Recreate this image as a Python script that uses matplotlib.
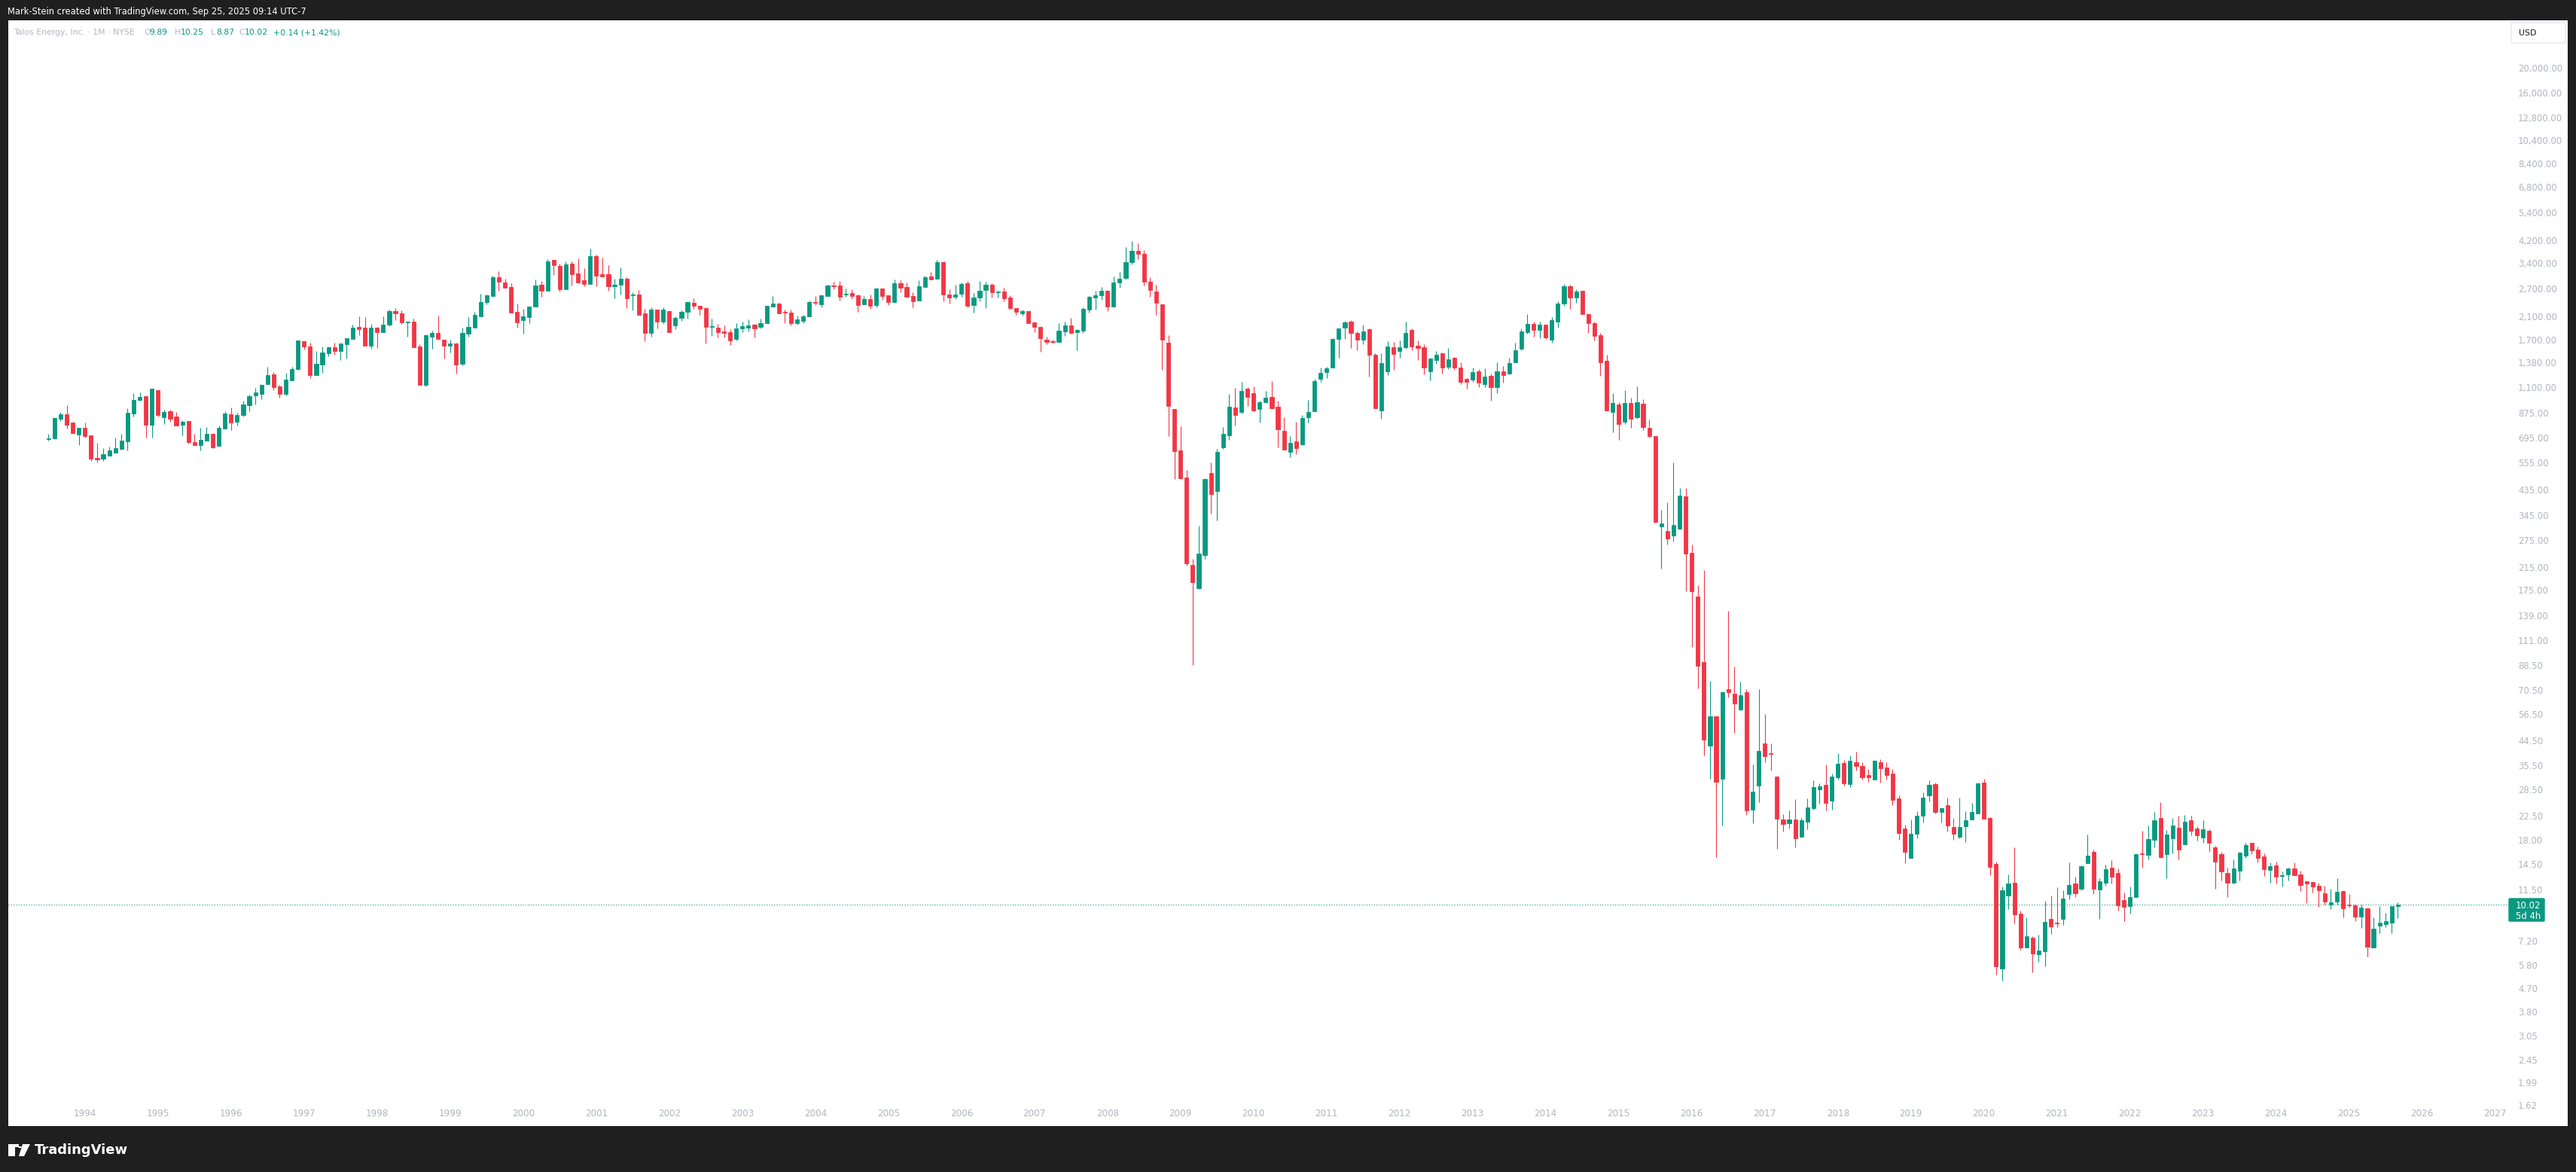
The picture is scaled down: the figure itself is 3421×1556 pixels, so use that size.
import numpy as np
import pandas as pd
import matplotlib
matplotlib.use('Agg')
import matplotlib.pyplot as plt
from matplotlib.patches import Rectangle, FancyBboxPatch, Polygon, Circle

# Talos Energy monthly candles, Jul 1993 - Sep 2025
months = pd.period_range('1993-07', '2025-09', freq='M')

opens = [
    688, 692, 828, 862, 800, 718,  # 1993
    762, 713, 580, 577, 592, 609, 631, 675, 870, 984, 1016, 785,  # 1994
    1074, 841, 887, 845, 785, 811, 670, 653, 680, 722, 648, 759,  # 1995
    862, 807, 857, 938, 1025, 1040, 1136, 1239, 1110, 1040, 1176, 1303,  # 1996
    1675, 1596, 1233, 1350, 1505, 1580, 1536, 1633, 1713, 1906, 1893, 1611,  # 1997
    1893, 1822, 1950, 2201, 2159, 1990, 1999, 1596, 1129, 1739, 1806, 1699,  # 1998
    1611, 1640, 1367, 1798, 1898, 2103, 2395, 2529, 2996, 2859, 2740, 2188,  # 1999
    2033, 2089, 2299, 2796, 2655, 3506, 3319, 2685, 3388, 3100, 2908, 2815,  # 2000
    3628, 3079, 3079, 2759, 2796, 2955, 2541, 2559, 2159, 1806, 2232, 1999,  # 2001
    2201, 1933, 2070, 2188, 2374, 2310, 2262, 1906, 1893, 1830, 1818, 1709,  # 2002
    1881, 1893, 1946, 1906, 1973, 2294, 2357, 2188, 2172, 1973, 2013, 2098,  # 2003
    2391, 2341, 2529, 2778, 2778, 2559, 2593, 2541, 2341, 2459, 2325, 2703,  # 2004
    2541, 2391, 2840, 2740, 2525, 2425, 2740, 3017, 2955, 3433, 2559, 2510,  # 2005
    2576, 2840, 2325, 2492, 2667, 2796, 2610, 2627, 2492, 2262, 2159, 2201,  # 2006
    1986, 1906, 1699, 1675, 1665, 1830, 1933, 1818, 1843, 2232, 2492, 2541,  # 2007
    2649, 2294, 2859, 2976, 3444, 3801, 3701, 2873, 2632, 2341, 1652, 905,  # 2008
    620, 486, 219, 178, 239, 505, 429, 640, 713, 917, 879, 1087,  # 2009
    1045, 907, 962, 1009, 922, 742, 612, 673, 654, 837, 888, 1190,  # 2010
    1265, 1317, 1710, 1892, 2000, 1803, 1702, 1867, 1481, 893, 1276, 1583,  # 2011
    1533, 1583, 1858, 1609, 1583, 1272, 1415, 1501, 1327, 1439, 1317, 1187,  # 2012
    1183, 1272, 1135, 1220, 1100, 1272, 1243, 1382, 1562, 1821, 1958, 1858,  # 2013
    1948, 1694, 2000, 2360, 2762, 2497, 2645, 2143, 1973, 1767, 1403, 877,  # 2014
    943, 805, 957, 836, 950, 763, 706, 310, 299, 286, 304, 410,  # 2015
    244, 165, 90.8, 42.4, 55.5, 31.5, 70.9, 68.2, 59.0, 68.9, 23.7, 29.6,  # 2016
    43.3, 39.7, 32.1, 21.7, 21.0, 21.7, 18.6, 21.3, 24.1, 28.6, 29.8, 25.8,  # 2017
    31.9, 36.3, 30.0, 36.5, 35.3, 32.5, 31.1, 36.5, 34.7, 33.0, 26.3, 20.0,  # 2018
    15.35, 19.0, 22.5, 27.1, 30.0, 23.3, 24.7, 20.3, 18.6, 20.4, 21.7, 23.0,  # 2019
    30.4, 22.0, 14.5, 5.61, 10.9, 12.2, 9.23, 6.79, 7.41, 6.38, 6.57, 8.80,  # 2020
    8.53, 8.77, 11.0, 12.1, 11.6, 14.6, 16.2, 11.45, 12.2, 14.0, 13.4, 10.45,  # 2021
    9.86, 10.7, 16.0, 15.7, 18.0, 22.0, 15.8, 18.3, 20.2, 17.3, 21.6, 20.0,  # 2022
    18.4, 19.6, 16.85, 15.85, 13.4, 12.2, 13.6, 15.6, 17.5, 16.5, 15.5, 13.7,  # 2023
    14.3, 13.0, 13.2, 13.9, 13.2, 12.4, 12.3, 11.9, 11.1, 10.05, 10.3, 11.3,  # 2024
    10.0, 9.95, 9.0, 9.7, 6.79, 8.3, 8.41, 8.52, 9.89,  # 2025
]

highs = [
    722, 836, 881, 936, 806, 762,  # 1993
    800, 713, 665, 634, 643, 697, 722, 910, 1045, 1052, 1016, 1088,  # 1994
    1074, 898, 898, 881, 817, 811, 722, 762, 768, 727, 778, 887,  # 1995
    917, 875, 975, 1030, 1097, 1134, 1327, 1265, 1126, 1256, 1327, 1686,  # 1996
    1675, 1652, 1532, 1596, 1596, 1652, 1640, 1721, 1946, 2098, 2084, 1960,  # 1997
    1906, 2098, 2232, 2262, 2216, 1999, 2056, 1633, 1780, 1843, 2111, 1699,  # 1998
    1699, 1652, 1893, 2084, 2188, 2576, 2559, 3034, 3170, 2955, 2840, 2357,  # 1999
    2247, 2294, 2930, 2894, 3530, 3506, 3388, 3458, 3458, 3553, 3252, 3885,  # 2000
    3678, 3578, 3341, 2955, 3274, 2996, 2610, 2667, 2247, 2278, 2232, 2278,  # 2001
    2201, 2098, 2216, 2391, 2475, 2310, 2278, 2056, 1960, 1933, 1868, 1973,  # 2002
    1999, 2042, 1960, 2056, 2310, 2525, 2374, 2232, 2232, 2111, 2128, 2425,  # 2003
    2525, 2541, 2796, 2872, 2894, 2703, 2685, 2559, 2525, 2559, 2722, 2703,  # 2004
    2541, 2930, 2912, 2859, 2610, 2912, 3034, 3148, 3506, 3458, 2685, 2796,  # 2005
    2859, 2894, 2593, 2894, 2872, 2840, 2649, 2722, 2541, 2262, 2232, 2201,  # 2006
    1986, 1906, 1745, 1699, 1973, 1999, 2070, 1868, 2278, 2525, 2649, 2740,  # 2007
    2649, 3017, 3148, 3940, 4163, 4073, 3832, 2999, 2799, 2341, 1771, 905,  # 2008
    773, 520, 231, 313, 483, 556, 631, 767, 1036, 1096, 1156, 1100,  # 2009
    1111, 975, 1062, 1165, 975, 837, 707, 805, 855, 982, 1190, 1317,  # 2010
    1330, 1718, 1882, 2011, 2022, 1826, 1948, 1882, 1500, 1501, 1674, 1661,  # 2011
    1686, 2000, 1882, 1686, 1625, 1439, 1533, 1513, 1575, 1451, 1382, 1196,  # 2012
    1317, 1300, 1307, 1246, 1382, 1334, 1439, 1652, 1882, 2144, 2000, 2000,  # 2013
    1948, 2077, 2405, 2814, 2792, 2680, 2645, 2160, 1994, 1810, 1478, 1043,  # 2014
    963, 1072, 1004, 1109, 989, 822, 706, 362, 388, 557, 441, 441,  # 2015
    264, 182, 209, 76.4, 55.5, 69.6, 144.6, 87.2, 75.9, 70.9, 35.8, 70.9,  # 2016
    56.6, 43.3, 32.3, 22.8, 23.6, 26.1, 22.0, 26.3, 31.0, 30.1, 35.8, 33.0,  # 2017
    39.65, 37.3, 38.8, 40.2, 36.5, 34.3, 37.3, 37.6, 36.5, 34.4, 27.0, 20.7,  # 2018
    21.7, 23.4, 27.8, 31.0, 30.4, 24.2, 26.5, 22.0, 26.5, 23.4, 25.2, 30.4,  # 2019
    31.5, 22.1, 14.8, 11.8, 13.2, 16.85, 9.48, 8.92, 7.51, 7.62, 10.4, 10.9,  # 2020
    11.7, 11.4, 14.7, 12.9, 14.3, 18.9, 16.5, 12.7, 14.4, 15.0, 13.9, 11.2,  # 2021
    11.8, 15.8, 19.6, 20.6, 23.2, 25.4, 19.7, 22.0, 22.5, 22.6, 22.5, 20.4,  # 2022
    21.6, 19.9, 17.1, 16.2, 14.0, 15.1, 16.2, 17.5, 17.6, 17.0, 15.95, 14.7,  # 2023
    14.8, 13.5, 14.0, 14.7, 13.6, 12.4, 12.3, 12.2, 11.9, 11.6, 12.7, 11.4,  # 2024
    11.0, 10.1, 10.0, 9.75, 8.92, 9.9, 9.3, 9.9, 10.25,  # 2025
]

lows = [
    680, 690, 813, 759, 725, 653,  # 1993
    699, 565, 558, 565, 592, 609, 623, 622, 847, 978, 697, 697,  # 1994
    847, 791, 807, 780, 714, 658, 653, 622, 680, 635, 645, 759,  # 1995
    749, 780, 847, 883, 945, 991, 1136, 1076, 1005, 1025, 1176, 1294,  # 1996
    1557, 1200, 1233, 1260, 1464, 1484, 1413, 1434, 1713, 1768, 1611, 1562,  # 1997
    1574, 1822, 1924, 2033, 1963, 1749, 1588, 1129, 1110, 1562, 1703, 1434,  # 1998
    1515, 1250, 1341, 1749, 1898, 2103, 2347, 2529, 2655, 2728, 2176, 1898,  # 1999
    1798, 1977, 2299, 2510, 2655, 3058, 2637, 2685, 2778, 2840, 2759, 2815,  # 2000
    2759, 2996, 2649, 2475, 2559, 2262, 2216, 2128, 1675, 1739, 1881, 1960,  # 2001
    1818, 1868, 2013, 2056, 2247, 2128, 1640, 1757, 1733, 1733, 1618, 1686,  # 2002
    1818, 1830, 1733, 1881, 1973, 2294, 2154, 1973, 1933, 1946, 1973, 2098,  # 2003
    2329, 2278, 2529, 2685, 2425, 2510, 2459, 2188, 2341, 2247, 2278, 2443,  # 2004
    2325, 2374, 2610, 2492, 2278, 2425, 2740, 2930, 2930, 2408, 2357, 2459,  # 2005
    2510, 2278, 2172, 2408, 2262, 2492, 2492, 2408, 2232, 2128, 2111, 1973,  # 2006
    1818, 1521, 1629, 1640, 1652, 1757, 1794, 1542, 1806, 2172, 2232, 2443,  # 2007
    2201, 2278, 2722, 2930, 3356, 3520, 2769, 2510, 2133, 1290, 708, 480,  # 2008
    478, 218, 88, 176, 231, 350, 329, 628, 681, 777, 870, 929,  # 2009
    888, 797, 953, 905, 638, 625, 582, 601, 649, 801, 888, 1159,  # 2010
    1196, 1317, 1439, 1710, 1575, 1541, 1630, 1213, 913, 827, 1230, 1290,  # 2011
    1439, 1560, 1541, 1415, 1240, 1171, 1366, 1247, 1300, 1290, 1132, 1087,  # 2012
    1159, 1105, 1100, 977, 1045, 1150, 1240, 1382, 1541, 1794, 1743, 1722,  # 2013
    1710, 1647, 1892, 2316, 2250, 2379, 2135, 1810, 1689, 1218, 890, 731,  # 2014
    685, 791, 760, 825, 749, 697, 321, 212, 264, 271, 304, 173,  # 2015
    104, 71.6, 38.8, 31.4, 15.4, 20.5, 65.6, 47.8, 58.6, 22.6, 21.0, 25.4,  # 2016
    36.4, 33.8, 16.6, 19.5, 20.0, 16.8, 18.5, 19.9, 23.7, 25.1, 23.6, 23.7,  # 2017
    31.3, 29.6, 29.2, 33.8, 31.1, 30.6, 31.1, 30.4, 31.1, 24.8, 18.0, 14.6,  # 2018
    15.35, 18.35, 21.1, 25.6, 23.0, 21.1, 19.4, 18.0, 18.35, 17.7, 21.7, 22.9,  # 2019
    21.8, 13.1, 5.30, 5.03, 9.6, 8.47, 6.65, 6.79, 5.42, 5.96, 5.73, 7.69,  # 2020
    8.17, 8.35, 10.5, 10.7, 11.4, 14.6, 11.05, 8.8, 11.9, 12.1, 9.5, 8.6,  # 2021
    9.2, 10.7, 14.0, 15.1, 16.9, 15.35, 12.75, 16.0, 15.1, 17.3, 18.8, 17.9,  # 2022
    17.6, 16.2, 11.6, 12.5, 10.7, 12.1, 12.5, 15.3, 15.85, 14.7, 13.0, 12.2,  # 2023
    12.1, 11.8, 12.5, 13.1, 11.35, 10.15, 11.2, 9.8, 10.0, 9.6, 10.05, 8.9,  # 2024
    9.75, 8.6, 8.1, 6.26, 6.79, 7.7, 8.17, 7.7, 8.87,  # 2025
]

closes = [
    692, 834, 862, 785, 727, 762,  # 1993
    709, 577, 571, 600, 621, 634, 679, 875, 982, 1009, 785, 1088,  # 1994
    857, 881, 828, 780, 806, 667, 653, 684, 722, 640, 762, 869,  # 1995
    797, 855, 942, 1016, 1052, 1126, 1231, 1099, 1040, 1182, 1300, 1686,  # 1996
    1600, 1233, 1363, 1511, 1580, 1536, 1640, 1721, 1893, 1872, 1611, 1893,  # 1997
    1822, 1946, 2201, 2149, 1990, 1999, 1588, 1129, 1768, 1806, 1703, 1611,  # 1998
    1640, 1357, 1806, 1906, 2128, 2391, 2541, 2996, 2866, 2728, 2176, 1990,  # 1999
    2098, 2294, 2778, 2649, 3458, 3349, 2685, 3364, 3079, 2859, 2815, 3628,  # 2000
    3037, 3017, 2759, 2796, 2955, 2475, 2559, 2128, 1806, 2232, 1999, 2232,  # 2001
    1818, 2070, 2188, 2391, 2310, 2247, 1906, 1920, 1818, 1806, 1686, 1881,  # 2002
    1920, 1933, 1881, 1973, 2310, 2357, 2159, 2172, 1973, 2042, 2098, 2391,  # 2003
    2374, 2541, 2778, 2759, 2510, 2576, 2525, 2325, 2459, 2310, 2703, 2525,  # 2004
    2391, 2840, 2722, 2510, 2408, 2759, 2996, 2930, 3433, 2559, 2492, 2559,  # 2005
    2815, 2310, 2492, 2649, 2796, 2610, 2627, 2475, 2262, 2188, 2201, 1973,  # 2006
    1906, 1717, 1665, 1665, 1843, 1933, 1806, 1856, 2247, 2510, 2541, 2649,  # 2007
    2294, 2859, 2955, 3433, 3801, 3691, 2866, 2674, 2379, 1702, 932, 618,  # 2008
    483, 223, 188, 243, 480, 418, 612, 722, 922, 858, 1064, 1012,  # 2009
    893, 962, 1001, 909, 751, 625, 664, 635, 834, 879, 1165, 1256,  # 2010
    1307, 1710, 1882, 1985, 1808, 1702, 1826, 1481, 913, 1371, 1596, 1485,  # 2011
    1583, 1803, 1596, 1578, 1317, 1432, 1481, 1317, 1420, 1317, 1159, 1156,  # 2012
    1265, 1152, 1217, 1102, 1272, 1233, 1371, 1541, 1826, 1958, 1858, 1948,  # 2013
    1735, 2022, 2360, 2762, 2497, 2632, 2135, 1973, 1761, 1379, 890, 957,  # 2014
    791, 957, 825, 963, 765, 706, 324, 320, 279, 315, 413, 243,  # 2015
    173, 87.5, 44.7, 55.5, 30.5, 68.9, 68.9, 62.2, 67.3, 23.5, 28.0, 40.5,  # 2016
    38.7, 39.3, 21.8, 20.9, 21.7, 18.35, 21.6, 24.2, 29.1, 29.3, 25.3, 32.1,  # 2017
    36.0, 30.2, 37.0, 35.4, 31.9, 31.9, 37.0, 34.6, 32.6, 26.0, 19.2, 16.2,  # 2018
    19.1, 22.4, 26.5, 29.8, 23.3, 24.1, 20.5, 19.0, 20.3, 21.6, 23.2, 30.1,  # 2019
    21.9, 14.1, 5.73, 11.4, 12.1, 9.19, 6.79, 7.51, 6.43, 6.60, 8.57, 8.23,  # 2020
    8.47, 10.6, 12.0, 11.1, 14.2, 15.6, 11.6, 12.4, 13.8, 12.9, 9.98, 9.8,  # 2021
    10.7, 15.8, 15.8, 18.2, 21.6, 15.4, 18.9, 20.6, 16.5, 21.2, 19.6, 18.8,  # 2022
    19.9, 17.6, 14.8, 13.5, 12.2, 13.9, 16.1, 17.2, 16.4, 15.35, 13.8, 14.2,  # 2023
    12.9, 13.1, 13.9, 13.1, 11.95, 12.1, 11.8, 11.4, 10.3, 10.25, 11.25, 9.7,  # 2024
    9.95, 9.0, 9.75, 6.83, 8.05, 8.5, 8.6, 9.88, 10.02,  # 2025
]

price_ticks = [20000, 16000, 12800, 10400, 8400, 6800, 5400, 4200, 3400, 2700,
               2100, 1700, 1380, 1100, 875, 695, 555, 435, 345, 275, 215, 175, 139,
               111, 88.5, 70.5, 56.5, 44.5, 35.5, 28.5, 22.5, 18, 14.5, 11.5, 7.2,
               5.8, 4.7, 3.8, 3.05, 2.45, 1.99, 1.62]
years = list(range(1994, 2028))
last_price = closes[-1]

UP = '#089981'
DOWN = '#F23645'
BG = '#1f1f1f'
AXIS_TXT = '#b2b5be'

W, H = 3421, 1556


def fx(px):
    return px / W


def fy(py):
    return 1 - py / H


fig = plt.figure(figsize=(W / 100, H / 100), dpi=100, facecolor=BG)

# white chart panel
left, right, top, bottom = 11, 3410, 27, 1495
ax = fig.add_axes([fx(left), fy(bottom), fx(right - left), (bottom - top) / H])
ax.set_facecolor('white')
for s in ax.spines.values():
    s.set_visible(False)

# x is the month index with Jan 1994 = 0
x = np.array([(p.year - 1994) * 12 + p.month - 1 for p in months], dtype=float)
o = np.array(opens, dtype=float)
h = np.array(highs, dtype=float)
l = np.array(lows, dtype=float)
c = np.array(closes, dtype=float)
up = c >= o
colors = np.where(up, UP, DOWN)

ax.vlines(x, l, h, colors=colors, linewidth=0.8, zorder=2)
body_lo = np.minimum(o, c)
body_hi = np.maximum(o, c)
ax.bar(x, body_hi - body_lo, bottom=body_lo, width=0.64, color=colors,
       edgecolor=colors, linewidth=0.6, zorder=3)

ax.set_yscale('log')
px_month = 8.083
x0_px = 112.8
ax.set_xlim((left - x0_px) / px_month, (right - x0_px) / px_month)
ax.set_ylim(1.340, 30882)
ax.yaxis.set_minor_locator(matplotlib.ticker.NullLocator())

# price scale labels inside the panel, on the right
ax.set_yticks(price_ticks)
ax.set_yticklabels([f'{v:,.2f}' for v in price_ticks])
ax.tick_params(axis='y', which='both', left=False, right=False, labelleft=False,
               labelright=True, pad=-51, labelsize=8.4, labelcolor=AXIS_TXT)
for lab in ax.get_yticklabels():
    lab.set_horizontalalignment('left')

# year labels inside the panel, at the bottom
ax.set_xticks([(y - 1994) * 12 for y in years])
ax.set_xticklabels([str(y) for y in years])
ax.tick_params(axis='x', which='both', bottom=False, top=False, pad=-20,
               labelsize=8.6, labelcolor=AXIS_TXT)

# last price line and label
ax.axhline(last_price, xmin=0, xmax=(3331 - left) / (right - left), color=UP,
           linestyle=(0, (1, 2)), linewidth=0.8, zorder=1)
fig.patches.append(FancyBboxPatch((fx(3332), fy(1223)), fx(47), 30 / H,
                                  boxstyle='round,pad=0,rounding_size=0.0006',
                                  transform=fig.transFigure, facecolor=UP,
                                  edgecolor=UP, zorder=5))
fig.text(fx(3341), fy(1202), f'{last_price:.2f}', color='white', fontsize=8.4,
         ha='left', va='center', zorder=6)
fig.text(fx(3341), fy(1216), '5d 4h', color='white', fontsize=8.4,
         ha='left', va='center', zorder=6)

# USD button
fig.patches.append(FancyBboxPatch((fx(3335), fy(57)), fx(72), 27 / H,
                                  boxstyle='round,pad=0,rounding_size=0.001',
                                  transform=fig.transFigure, facecolor='white',
                                  edgecolor='#e0e3eb', linewidth=0.8, zorder=5))
fig.text(fx(3345), fy(44), 'USD', color='#131722', fontsize=7.8, ha='left',
         va='center', zorder=6)

# header texts
fig.text(fx(10), fy(15), 'Mark-Stein created with TradingView.com, Sep 25, 2025 09:14 UTC-7',
         color='white', fontsize=8.3, ha='left', va='center')
legend_y = fy(43)
fig.text(fx(18), legend_y, 'Talos Energy, Inc. · 1M · NYSE', color=AXIS_TXT,
         fontsize=7.8, ha='left', va='center')
parts = [('O', f'{opens[-1]:.2f}', 191), ('H', f'{highs[-1]:.2f}', 232),
         ('L', f'{lows[-1]:.2f}', 280), ('C', f'{closes[-1]:.2f}', 317)]
for letter, val, xp in parts:
    fig.text(fx(xp), legend_y, letter, color=AXIS_TXT, fontsize=7.8, ha='left', va='center')
    fig.text(fx(xp + 7.5), legend_y, val, color=UP, fontsize=7.8, ha='left', va='center')
chg = closes[-1] - closes[-2]
fig.text(fx(363), legend_y, f'+{chg:.2f} (+{chg / closes[-2] * 100:.2f}%)', color=UP,
         fontsize=7.8, ha='left', va='center')

# footer logo
fig.patches.append(Rectangle((fx(11), fy(1535)), fx(9), 16 / H, transform=fig.transFigure,
                             facecolor='white', edgecolor='none'))
fig.patches.append(Rectangle((fx(11), fy(1523)), fx(14), 4 / H, transform=fig.transFigure,
                             facecolor='white', edgecolor='none'))
fig.patches.append(Circle((fx(26.5), fy(1523)), 2.4 / W, transform=fig.transFigure,
                          facecolor='white', edgecolor='none'))
fig.patches.append(Polygon([(fx(30), fy(1519)), (fx(40), fy(1519)), (fx(32), fy(1535)),
                            (fx(25), fy(1535))], closed=True, transform=fig.transFigure,
                           facecolor='white', edgecolor='none'))
fig.text(fx(46), fy(1527), 'TradingView', color='white', fontsize=13, fontweight='bold',
         ha='left', va='center')

fig.savefig('out.png', dpi=100, facecolor=BG)
